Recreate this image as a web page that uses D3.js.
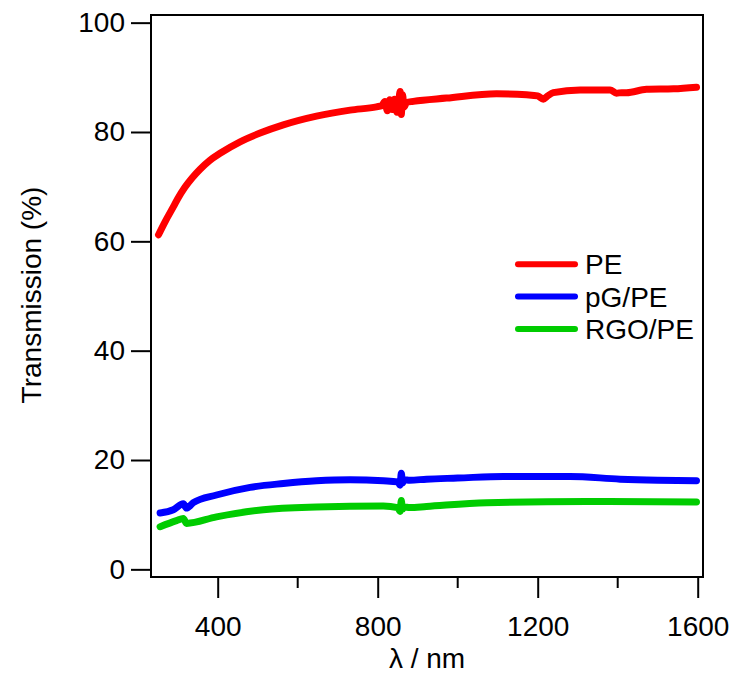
<!DOCTYPE html>
<html>
<head>
<meta charset="utf-8">
<script src="https://cdn.jsdelivr.net/npm/d3@7"></script>
<style>
  html, body { margin: 0; padding: 0; background: #fff; }
  svg text { font-family: "Liberation Sans", Arial, sans-serif; fill: #000; }
</style>
</head>
<body>
<svg id="chart" width="733" height="678"></svg>
<script>
// Data (wavelength nm, transmission %)
const peWl  = [252, 270, 289, 300, 318, 336, 356, 380, 406, 456, 506, 564, 647, 731, 797, 810, 818, 824, 830, 836, 842, 848, 852, 856, 859, 862, 866, 872, 889, 972, 1097, 1172, 1200, 1214, 1225, 1239, 1306, 1381, 1397, 1410, 1422, 1472, 1540, 1597];
const peT   = [61.2, 63.8, 66.3, 67.8, 69.9, 71.6, 73.2, 74.8, 76.1, 78.2, 79.8, 81.3, 82.9, 84.0, 84.6, 84.8, 85.6, 83.9, 85.9, 84.1, 86.0, 83.6, 85.2, 87.4, 83.2, 86.8, 84.6, 85.4, 85.6, 86.2, 87.0, 86.8, 86.6, 86.0, 86.6, 87.2, 87.7, 87.7, 87.1, 87.2, 87.2, 87.8, 87.9, 88.2];

const pgWl  = [256, 289, 314, 322, 339, 397, 481, 564, 647, 731, 814, 850, 856, 859, 862, 866, 880, 922, 1000, 1114, 1281, 1406, 1500, 1597];
const pgT   = [10.3, 10.9, 12.0, 11.2, 12.2, 13.6, 15.0, 15.7, 16.2, 16.4, 16.2, 16.0, 15.4, 17.6, 15.8, 16.4, 16.3, 16.5, 16.7, 17.0, 17.0, 16.5, 16.3, 16.2];

const rgoWl = [256, 297, 314, 322, 397, 514, 647, 814, 850, 856, 859, 862, 866, 880, 922, 1072, 1322, 1597];
const rgoT  = [7.8, 8.9, 9.3, 8.4, 9.6, 10.9, 11.4, 11.6, 11.3, 10.6, 12.6, 11.0, 11.4, 11.3, 11.5, 12.2, 12.4, 12.3];

const seriesNames  = ["PE", "pG/PE", "RGO/PE"];
const seriesColors = ["#ff0000", "#0000ff", "#00cc00"];
const xTicks = [400, 800, 1200, 1600];
const xMinor = [600, 1000, 1400];
const yTicks = [0, 20, 40, 60, 80, 100];

const series = [
  peWl.map((w, i) => [w, peT[i]]),
  pgWl.map((w, i) => [w, pgT[i]]),
  rgoWl.map((w, i) => [w, rgoT[i]])
];

const svg = d3.select("#chart");
const plotL = 151, plotR = 703, plotT = 15, plotB = 577;
const fs = 28;

const x = d3.scaleLinear().domain([233.25, 1613.25]).range([plotL, plotR]);
const y = d3.scaleLinear().domain([-1.4, 101.4]).range([plotB, plotT]);

// frame
svg.append("rect")
  .attr("x", plotL).attr("y", plotT)
  .attr("width", plotR - plotL).attr("height", plotB - plotT)
  .attr("fill", "none").attr("stroke", "#000").attr("stroke-width", 2);

// y axis
const yAxis = svg.append("g")
  .attr("transform", `translate(${plotL},0)`)
  .call(d3.axisLeft(y).tickValues(yTicks).tickFormat(d3.format("d")).tickSize(20).tickPadding(6));
yAxis.select(".domain").remove();
yAxis.selectAll("line").attr("stroke-width", 2);
yAxis.selectAll("text").attr("font-size", fs).attr("font-family", null);

// x axis
const xAxis = svg.append("g")
  .attr("transform", `translate(0,${plotB})`)
  .call(d3.axisBottom(x).tickValues(xTicks).tickFormat(d3.format("d")).tickSize(21).tickPadding(18));
xAxis.select(".domain").remove();
xAxis.selectAll("line").attr("stroke-width", 2);
xAxis.selectAll("text").attr("font-size", fs).attr("font-family", null);

svg.append("g")
  .selectAll("line")
  .data(xMinor)
  .join("line")
    .attr("x1", d => x(d)).attr("x2", d => x(d))
    .attr("y1", plotB).attr("y2", plotB + 11)
    .attr("stroke", "#000").attr("stroke-width", 2);

// axis titles
svg.append("text")
  .attr("x", 427).attr("y", 668)
  .attr("text-anchor", "middle")
  .attr("font-size", fs)
  .text("λ / nm");

svg.append("text")
  .attr("transform", "translate(41,295) rotate(-90)")
  .attr("text-anchor", "middle")
  .attr("font-size", fs)
  .text("Transmission (%)");

// lines
const line = d3.line().x(d => x(d[0])).y(d => y(d[1])).curve(d3.curveMonotoneX);

svg.append("g")
  .selectAll("path")
  .data(series)
  .join("path")
    .attr("d", line)
    .attr("fill", "none")
    .attr("stroke", (d, i) => seriesColors[i])
    .attr("stroke-width", 7)
    .attr("stroke-linecap", "round")
    .attr("stroke-linejoin", "round");

// legend
const legend = svg.append("g")
  .selectAll("g")
  .data(seriesNames)
  .join("g")
    .attr("transform", (d, i) => `translate(518,${264.3 + i * 32.3})`);

legend.append("line")
  .attr("x1", 0).attr("x2", 57)
  .attr("stroke", (d, i) => seriesColors[i])
  .attr("stroke-width", 6)
  .attr("stroke-linecap", "round");

legend.append("text")
  .attr("x", 67).attr("y", 10)
  .attr("font-size", fs)
  .text(d => d);
</script>
</body>
</html>
